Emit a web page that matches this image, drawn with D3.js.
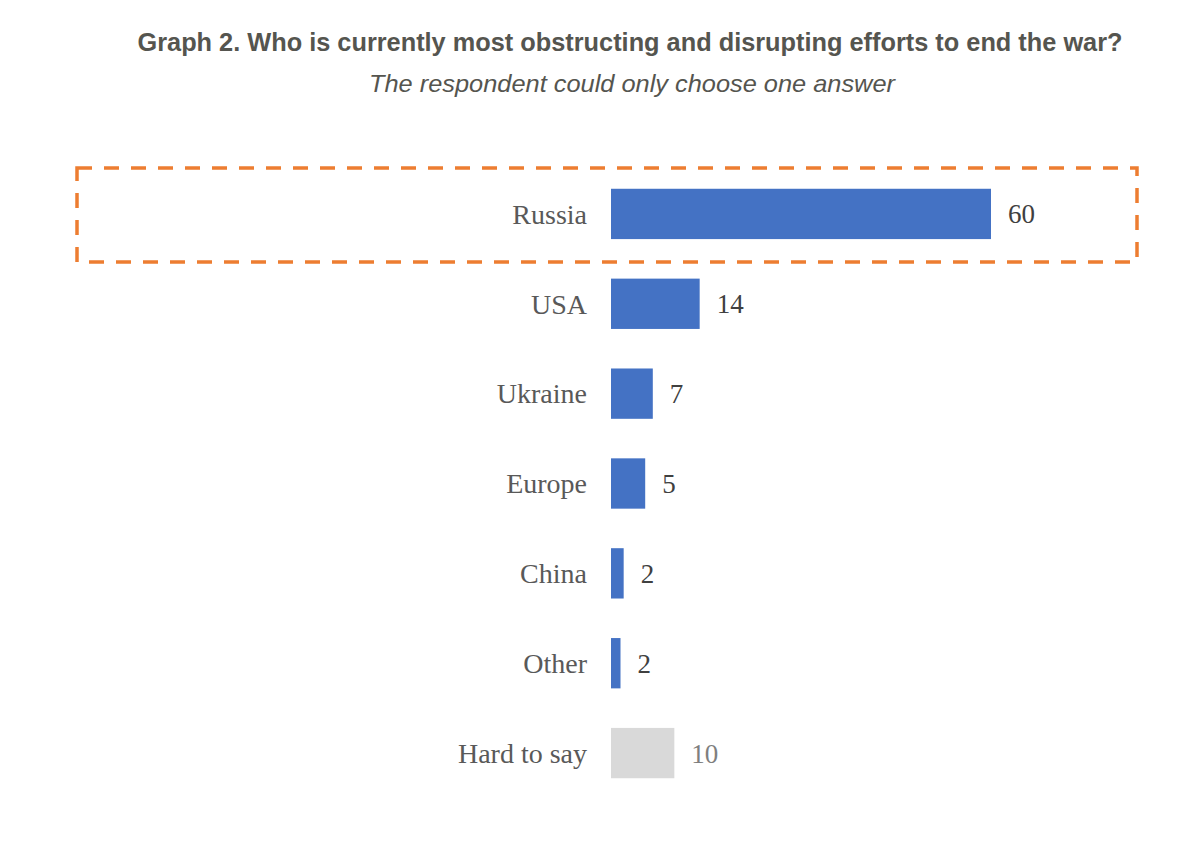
<!DOCTYPE html>
<html><head><meta charset="utf-8">
<script src="https://cdn.jsdelivr.net/npm/d3@7/dist/d3.min.js"></script>
<style>body{margin:0;background:#fff}</style>
</head><body>
<svg id="chart" width="1200" height="843"></svg>
<script>
const categories = ["Russia","USA","Ukraine","Europe","China","Other","Hard to say"];
const values = [60, 14, 6.6, 5.4, 2, 1.5, 10];
const labels = ["60","14","7","5","2","2","10"];
const highlighted = ["Hard to say"];
const title = "Graph 2. Who is currently most obstructing and disrupting efforts to end the war?";
const subtitle = "The respondent could only choose one answer";

const svg = d3.select("#chart");
const data = categories.map((c,i)=>({c, v:values[i], l:labels[i]}));

const x = d3.scaleLinear().domain([0,60]).range([611,991]);
const y = d3.scaleBand().domain(categories).range([169,798]).paddingInner(0.44).paddingOuter(0.22);

svg.append("text").attr("x",630).attr("y",51).attr("text-anchor","middle")
  .attr("font-family","Liberation Sans, Arial, sans-serif").attr("font-weight","bold")
  .attr("font-size",25).attr("fill","#55554f")
  .attr("textLength",985).attr("lengthAdjust","spacingAndGlyphs").text(title);
svg.append("text").attr("x",632).attr("y",92).attr("text-anchor","middle")
  .attr("font-family","Liberation Sans, Arial, sans-serif").attr("font-style","italic")
  .attr("font-size",24).attr("fill","#55554f")
  .attr("textLength",526).attr("lengthAdjust","spacingAndGlyphs").text(subtitle);

// highlight box
svg.append("rect").attr("x",77).attr("y",168).attr("width",1060).attr("height",94)
  .attr("fill","none").attr("stroke","#ED7D31").attr("stroke-width",3.5)
  .attr("stroke-dasharray","15,12");

svg.selectAll("rect.bar").data(data).join("rect").attr("class","bar")
  .attr("x",x(0)).attr("y",d=>y(d.c)).attr("width",d=>x(d.v)-x(0))
  .attr("height",y.bandwidth())
  .attr("fill",d=>highlighted.includes(d.c)?"#D9D9D9":"#4472C4");

svg.selectAll("text.cat").data(data).join("text").attr("class","cat")
  .attr("x",587).attr("y",d=>y(d.c)+y.bandwidth()/2).attr("dy","0.35em")
  .attr("text-anchor","end").attr("font-family","Liberation Serif, Times New Roman, serif")
  .attr("font-size",28).attr("fill","#595959").text(d=>d.c);

svg.selectAll("text.val").data(data).join("text").attr("class","val")
  .attr("x",d=>x(d.v)+17).attr("y",d=>y(d.c)+y.bandwidth()/2).attr("dy","0.35em")
  .attr("font-family","Liberation Serif, Times New Roman, serif")
  .attr("font-size",27).attr("fill",d=>highlighted.includes(d.c)?"#7f7f7f":"#404040").text(d=>d.l);
</script>
</body></html>
